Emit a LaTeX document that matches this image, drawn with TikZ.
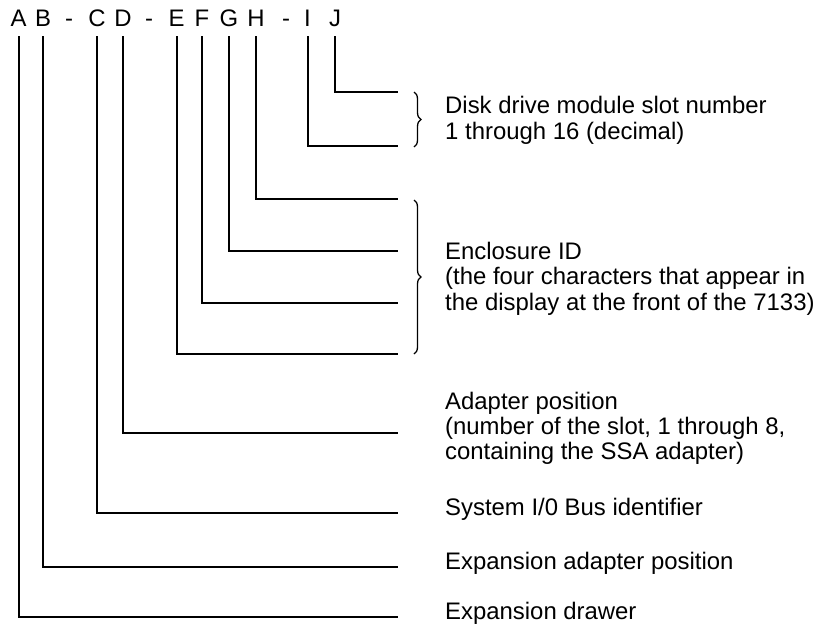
\documentclass[tikz,border=0pt]{standalone}
\usepackage{fontspec}
\setmainfont{Liberation Sans}
\usetikzlibrary{decorations.pathreplacing}
\begin{document}
\begin{tikzpicture}[x=1pt,y=-1pt,
  lbl/.style={font=\fontsize{23.9}{26}\selectfont, inner sep=0pt, anchor=base west},
  letter/.style={font=\fontsize{23.9}{26}\selectfont, inner xsep=0pt, inner ysep=10pt, text depth=0pt, anchor=base},
  lead/.style={line width=2pt},
  brc/.style={decorate, decoration={brace, amplitude=7pt}, line width=1.3pt}]
\useasboundingbox (0,0) rectangle (820,624);
% top code letters
\node[letter] (lA) at (18.5,26) {A};
\node[letter] (lB) at (43,26) {B};
\node[letter] (d1) at (69,26) {-};
\node[letter] (lC) at (97,26) {C};
\node[letter] (lD) at (123,26) {D};
\node[letter] (d2) at (149,26) {-};
\node[letter] (lE) at (176.5,26) {E};
\node[letter] (lF) at (202,26) {F};
\node[letter] (lG) at (229,26) {G};
\node[letter] (lH) at (256,26) {H};
\node[letter] (d3) at (286,26) {-};
\node[letter] (lI) at (307.5,26) {I};
\node[letter] (lJ) at (335,26) {J};
% line ends
\coordinate (eJ) at (398,92);
\coordinate (eI) at (398,146);
\coordinate (eH) at (398,199);
\coordinate (eG) at (398,251);
\coordinate (eF) at (398,303);
\coordinate (eE) at (398,354);
\coordinate (eD) at (398,433);
\coordinate (eC) at (398,513);
\coordinate (eB) at (398,567);
\coordinate (eA) at (398,617);
\foreach \l in {A,B,C,D,E,F,G,H,I,J}{
  \draw[lead] (l\l.south) |- (e\l);
}
% braces
\coordinate (b1t) at (414,92);
\coordinate (b1b) at (414,147);
\coordinate (b2t) at (414,200);
\coordinate (b2b) at (414,354);
\draw[brc] (b1t) -- (b1b);
\draw[brc] (b2t) -- (b2b);
% labels
\node[lbl] (t1) at (445,113) {Disk drive module slot number};
\node[lbl] (t2) at (445,139) {1 through 16 (decimal)};
\node[lbl] (t3) at (445,259) {Enclosure ID};
\node[lbl] (t4) at (445,284.5) {(the four characters that appear in};
\node[lbl] (t5) at (445,310) {the display at the front of the 7133)};
\node[lbl] (t6) at (445,409) {Adapter position};
\node[lbl] (t7) at (445,434) {(number of the slot, 1 through 8,};
\node[lbl] (t8) at (445,459) {containing the SSA adapter)};
\node[lbl] (t9) at (445,515) {System I/0 Bus identifier};
\node[lbl] (t10) at (445,569) {Expansion adapter position};
\node[lbl] (t11) at (445,619) {Expansion drawer};
\end{tikzpicture}
\end{document}
